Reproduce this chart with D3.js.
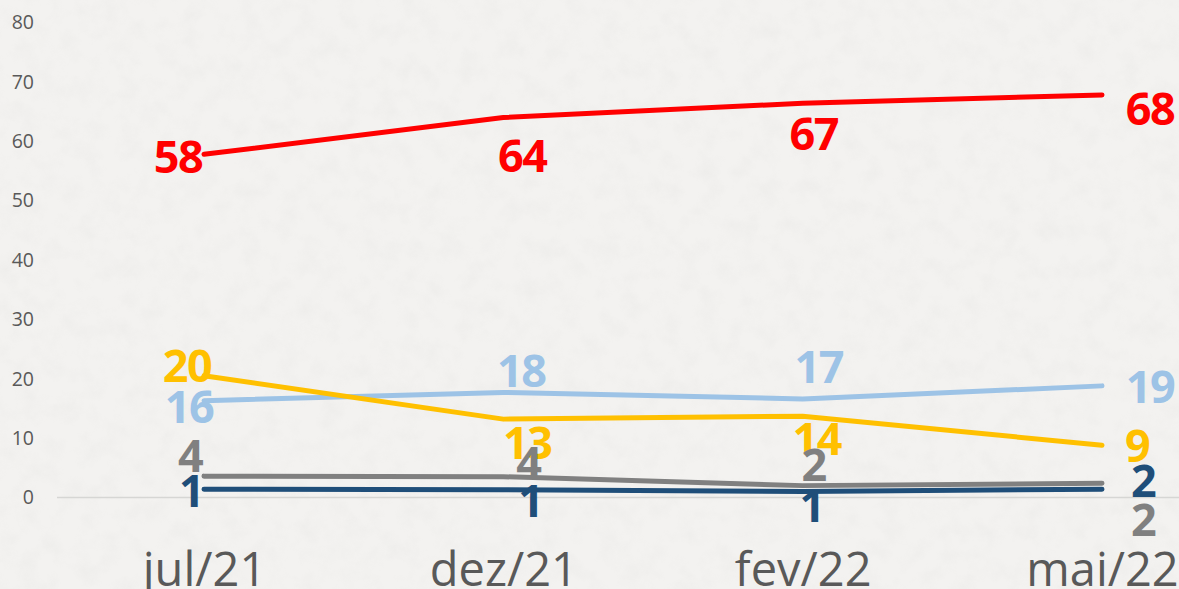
<!DOCTYPE html>
<html>
<head>
<meta charset="utf-8">
<script src="https://cdn.jsdelivr.net/npm/d3@7"></script>
<style>
  html, body { margin: 0; padding: 0; background: #f2f1ef; }
  svg { display: block; }
</style>
</head>
<body>
<svg id="chart" width="1179" height="589"></svg>
<script>
// ---- data ----
const categories = ["jul/21", "dez/21", "fev/22", "mai/22"];
const yTicks = [0, 10, 20, 30, 40, 50, 60, 70, 80];

const redValues       = [57.8, 64.0, 66.4, 67.8];
const lightBlueValues = [16.3, 17.7, 16.6, 18.8];
const yellowValues    = [20.5, 13.2, 13.7, 8.8];
const grayValues      = [3.6, 3.5, 2.0, 2.4];
const darkBlueValues  = [1.4, 1.3, 1.0, 1.4];

const redLabels       = ["58", "64", "67", "68"];
const lightBlueLabels = ["16", "18", "17", "19"];
const yellowLabels    = ["20", "13", "14", "9"];
const grayLabels      = ["4", "4", "2", "2"];
const darkBlueLabels  = ["1", "1", "1", "2"];

// ---- layout (label offsets from their points, px) ----
const redOffsets       = [[-26, 3], [19, 38], [11, 31], [48, 14]];
const lightBlueOffsets = [[-15, 6], [18, -21], [16, -32], [48, 1]];
const yellowOffsets    = [[-17, -10], [24, 24], [14, 23], [35, 1]];
const grayOffsets      = [[-14, -20], [25, -14], [11, -21], [41, 37]];
const darkBlueOffsets  = [[-13, 2], [27, 11], [9, 14], [41, -8]];

const series = [
  { values: redValues, labels: redLabels, offsets: redOffsets, color: "#ff0000" },
  { values: lightBlueValues, labels: lightBlueLabels, offsets: lightBlueOffsets, color: "#9dc3e6" },
  { values: yellowValues, labels: yellowLabels, offsets: yellowOffsets, color: "#ffc000" },
  { values: grayValues, labels: grayLabels, offsets: grayOffsets, color: "#808080" },
  { values: darkBlueValues, labels: darkBlueLabels, offsets: darkBlueOffsets, color: "#1f4e79" }
];

const W = 1179, H = 589;
const svg = d3.select("#chart");

// background with subtle paper-like texture
const defs = svg.append("defs");
const f = defs.append("filter").attr("id", "paper").attr("x", 0).attr("y", 0).attr("width", "100%").attr("height", "100%");
f.append("feTurbulence").attr("type", "fractalNoise").attr("baseFrequency", "0.05").attr("numOctaves", 4).attr("seed", 7).attr("result", "n");
f.append("feColorMatrix").attr("type", "matrix")
  .attr("values", "0 0 0 0 0.6  0 0 0 0 0.6  0 0 0 0 0.58  -1.2 0 0 0 0.7");
svg.append("rect").attr("width", W).attr("height", H).attr("fill", "#f3f2f0");
svg.append("rect").attr("width", W).attr("height", H).attr("filter", "url(#paper)").attr("opacity", 0.18);

// scales
const x = d3.scalePoint().domain(categories).range([204, 1102]);
const y = d3.scaleLinear().domain([0, 80]).range([497.5, 22.5]);

// y axis tick labels
const yAxis = d3.axisLeft(y).tickValues(yTicks).tickSize(0).tickPadding(0);
const gy = svg.append("g").attr("transform", "translate(34,0)").call(yAxis);
gy.select(".domain").remove();
gy.selectAll("text")
  .attr("font-family", "'Open Sans', sans-serif")
  .attr("font-size", 19.5)
  .attr("fill", "#595959");

// zero line
svg.append("line")
  .attr("x1", 57).attr("x2", W)
  .attr("y1", y(0)).attr("y2", y(0))
  .attr("stroke", "#d6d6d4").attr("stroke-width", 1.5);

// x axis labels
const xAxis = d3.axisBottom(x).tickSize(0).tickPadding(0);
const gx = svg.append("g").attr("transform", "translate(0,586)").call(xAxis);
gx.select(".domain").remove();
gx.selectAll("text")
  .attr("font-family", "'Open Sans', sans-serif")
  .attr("font-size", 47)
  .attr("fill", "#595959")
  .attr("dy", 0);

// lines
const line = d3.line().x((d, i) => x(categories[i])).y(d => y(d));
series.forEach(s => {
  svg.append("path")
    .datum(s.values)
    .attr("d", line)
    .attr("fill", "none")
    .attr("stroke", s.color)
    .attr("stroke-width", 5)
    .attr("stroke-linecap", "round")
    .attr("stroke-linejoin", "round");
});

// labels
const labelOrder = [0, 2, 1, 3, 4];
labelOrder.forEach(k => {
  const s = series[k];
  svg.append("g").selectAll("text")
    .data(s.values)
    .join("text")
    .attr("x", (d, i) => x(categories[i]) + s.offsets[i][0])
    .attr("y", (d, i) => y(d) + s.offsets[i][1] + 16)
    .attr("text-anchor", "middle")
    .attr("font-family", "'Open Sans', sans-serif")
    .attr("font-weight", 700)
    .attr("font-size", 45)
    .attr("letter-spacing", -1.5)
    .attr("fill", s.color)
    .text((d, i) => s.labels[i]);
});
</script>
</body>
</html>
